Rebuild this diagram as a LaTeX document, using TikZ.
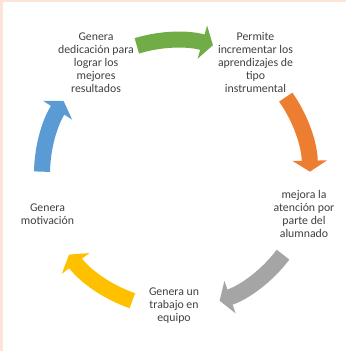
\documentclass[tikz,border=0pt]{standalone}
\usepackage{fontspec}
\setmainfont{Carlito}
\usetikzlibrary{arrows.meta}
\definecolor{peach}{HTML}{FCE4D6}
\definecolor{txt}{HTML}{404040}
\definecolor{cgreen}{HTML}{70AD47}
\definecolor{corange}{HTML}{ED7D31}
\definecolor{cgray}{HTML}{A5A5A5}
\definecolor{cyellow}{HTML}{FFC000}
\definecolor{cblue}{HTML}{5B9BD5}
\tikzset{
  lbl/.style={text=txt, align=center, inner sep=0pt, font=\fontsize{11.8}{13}\selectfont},
  cyc/.style={line width=16pt, -{Triangle[length=11pt,width=34pt]}}
}
\begin{document}
\begin{tikzpicture}[x=1pt,y=1pt]
\useasboundingbox (0,0) rectangle (346,351);
\fill[peach] (0,0) rectangle (346,351);
\fill[white] (3,0) rectangle (346,349);
\coordinate (C) at (176,177);
\node[lbl] (n1) at (96,288.5) {Genera\\dedicación para\\lograr los\\mejores\\resultados};
\node[lbl] (n2) at (255.5,288.5) {Permite\\incrementar los\\aprendizajes de\\tipo\\instrumental};
\node[lbl] (n3) at (304,137) {mejora la\\atención por\\parte del\\alumnado};
\node[lbl] (n4) at (174,45) {Genera un\\trabajo en\\equipo};
\node[lbl] (n5) at (47.5,137) {Genera\\motivación};
\coordinate (t1) at ([shift={(107:134)}]C);
\coordinate (t2) at ([shift={(35:134)}]C);
\coordinate (t3) at ([shift={(-37:134)}]C);
\coordinate (t4) at ([shift={(-109:134)}]C);
\coordinate (t5) at ([shift={(179:134)}]C);
\draw[cyc, cgreen] (t1) arc[start angle=107, end angle=74, radius=134];
\draw[cyc, corange] (t2) arc[start angle=35, end angle=1, radius=134];
\draw[cyc, cgray] (t3) arc[start angle=-37, end angle=-71, radius=134];
\draw[cyc, cyellow] (t4) arc[start angle=-109, end angle=-143, radius=134];
\draw[cyc, cblue] (t5) arc[start angle=179, end angle=147, radius=134];
\end{tikzpicture}
\end{document}
